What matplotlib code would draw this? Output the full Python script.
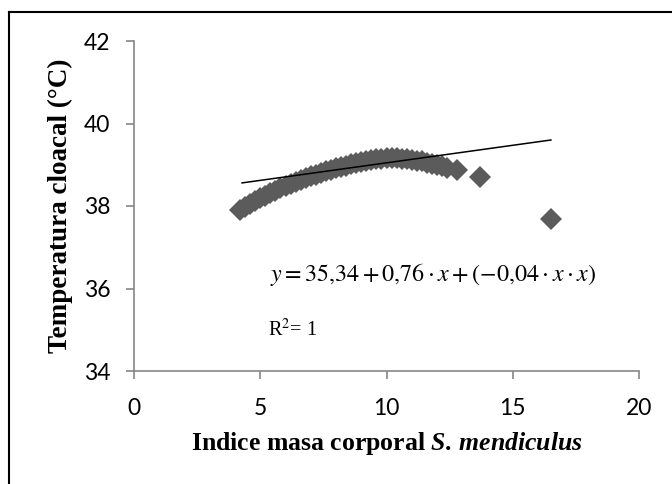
import numpy as np
import matplotlib.pyplot as plt
from matplotlib.lines import Line2D

# Data
imc = [4.2, 4.4, 4.6, 4.8, 5.0, 5.2, 5.4, 5.6, 5.8, 6.0, 6.2, 6.4, 6.6, 6.8, 7.0,
       7.2, 7.4, 7.6, 7.8, 8.0, 8.2, 8.4, 8.6, 8.8, 9.0, 9.2, 9.4, 9.6, 9.8, 10.0,
       10.2, 10.4, 10.6, 10.8, 11.0, 11.2, 11.4, 11.6, 11.8, 12.0, 12.2, 12.4,
       12.8, 13.7, 16.5]
temp = [37.90, 37.98, 38.05, 38.12, 38.19, 38.25, 38.31, 38.37, 38.43, 38.48,
        38.53, 38.58, 38.63, 38.68, 38.72, 38.76, 38.80, 38.84, 38.88, 38.92,
        38.95, 38.98, 39.01, 39.04, 39.07, 39.10, 39.12, 39.14, 39.15, 39.16,
        39.16, 39.16, 39.15, 39.14, 39.12, 39.10, 39.08, 39.05, 39.02, 38.99,
        38.96, 38.93, 38.87, 38.70, 37.68]
trend_x = [4.28, 16.51]
trend_y = [38.56, 39.60]

plt.rcParams['mathtext.fontset'] = 'custom'
plt.rcParams['mathtext.it'] = 'Liberation Serif:italic:bold'
plt.rcParams['mathtext.rm'] = 'Liberation Serif:bold'
plt.rcParams['mathtext.bf'] = 'Liberation Serif:bold'

fig = plt.figure(figsize=(6.72, 4.84), dpi=100)
ax = fig.add_axes([134 / 672, 1 - 371 / 484, (639 - 134) / 672, (371 - 41) / 484])

ax.plot(imc, temp, 'D', color='#5b5b5b', markersize=11, markeredgewidth=0, linestyle='none')
ax.plot(trend_x, trend_y, color='black', linewidth=1.1)

ax.set_xlim(0, 20)
ax.set_ylim(34, 42)
ax.set_xticks([0, 5, 10, 15, 20])
ax.set_yticks([34, 36, 38, 40, 42])

for side in ['top', 'right']:
    ax.spines[side].set_visible(False)
for side in ['left', 'bottom']:
    ax.spines[side].set_color('#868686')
    ax.spines[side].set_linewidth(1.2)
ax.tick_params(direction='out', length=6, width=1.2, color='#868686', labelsize=16.5)
ax.tick_params(axis='x', pad=13.5)
ax.tick_params(axis='y', pad=11)
for lab in ax.get_xticklabels() + ax.get_yticklabels():
    lab.set_fontfamily('Lato')

ax.set_xlabel(r'Indice masa corporal $\mathit{S.\,mendiculus}$', fontsize=18.5,
              fontweight='bold', fontfamily='Liberation Serif', labelpad=8)
ax.set_ylabel('Temperatura cloacal (°C)', fontsize=19.5, fontweight='bold',
              fontfamily='Liberation Serif', labelpad=8)

ax.text(5.39, 36.33, r'$y = 35{,}34 + 0{,}76 \cdot x + (-0{,}04 \cdot x \cdot x)$',
        fontsize=17.3, va='center', ha='left', math_fontfamily='stix')
ax.text(5.31, 34.99, 'R$^2$= 1', fontsize=14.5, fontfamily='Liberation Serif',
        va='center', ha='left', math_fontfamily='stix')

# outer frame (cut off on the right and bottom)
fig.add_artist(Line2D([9 / 672, 9 / 672], [0, 1 - 12 / 484], transform=fig.transFigure,
                      color='black', linewidth=1.5))
fig.add_artist(Line2D([9 / 672, 1], [1 - 12 / 484, 1 - 12 / 484], transform=fig.transFigure,
                      color='black', linewidth=1.5))

fig.savefig('out.png', dpi=100)
